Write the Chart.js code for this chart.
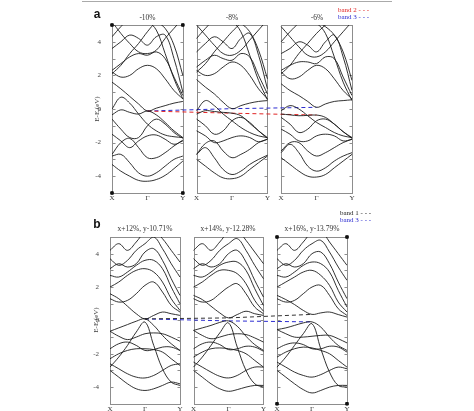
<!DOCTYPE html>
<html><head><meta charset="utf-8">
<script src="https://cdn.jsdelivr.net/npm/chart.js@4"></script>
<style>
body{margin:0;width:474px;height:411px;position:relative;background:#fff;overflow:hidden;font-family:'Liberation Serif','DejaVu Serif',serif;color:#333}
canvas{position:absolute;left:0}
.t{position:absolute;transform:translate(-50%,-50%);white-space:nowrap;font-size:7.5px;line-height:1}
.lab{position:absolute;font-size:7px;line-height:1;white-space:nowrap;transform:translateY(-50%)}
.big{position:absolute;font-family:'Liberation Sans',Arial,sans-serif;font-weight:bold;font-size:12px;transform:translate(-50%,-50%);color:#111}
.ylab{position:absolute;font-size:7px;line-height:1;white-space:nowrap;transform:translate(-50%,-50%) rotate(-90deg);color:#444}
.ylab span{font-size:5px;position:relative;top:1.5px}
</style></head>
<body>
<div style="position:absolute;left:82px;top:1px;width:310px;height:1px;background:#aaa"></div>
<canvas id="ca" width="474" height="205" style="top:0"></canvas>
<canvas id="cb" width="474" height="206" style="top:205px"></canvas>
<script>
// ---------- data ----------
const kLabels = ['X', 'Γ', 'Y'];
const kPoints = [0, 1, 2, 3, 4, 5, 6, 7, 8];
const yTicks = [-4, -2, 0, 2, 4];
const titlesA = ['-10%', '-8%', '-6%'];
const titlesB = ['x+12%, y-10.71%', 'x+14%, y-12.28%', 'x+16%, y-13.79%'];
const legendA = ['band 2', 'band 3'];
const legendB = ['band 1', 'band 3'];

// band energies (eV) at k points X..Γ..Y
const bandsA1 = [
  [-3.3, -3.7, -4.0, -4.25, -4.3, -4.2, -3.95, -3.55, -3.1],
  [-2.8, -2.7, -3.2, -3.8, -4.0, -3.8, -3.4, -3.0, -2.8],
  [-2.7, -2.0, -1.75, -2.3, -2.9, -2.9, -2.6, -2.2, -1.85],
  [-1.5, -1.9, -2.3, -1.9, -1.6, -1.55, -1.8, -2.1, -1.9],
  [-0.6, -1.2, -1.7, -1.7, -1.0, -0.6, -0.9, -1.4, -1.75],
  [0.0, 0.7, 0.35, -0.3, -0.9, -1.3, -1.55, -1.65, -1.7],
  [-0.35, -0.05, -0.2, -0.3, -0.12, -0.35, -0.8, -1.3, -1.7],
  [1.6, 1.2, 0.75, 0.3, -0.12, 0.05, 0.2, 0.35, 0.45],
  [2.2, 1.9, 2.0, 2.4, 2.6, 2.4, 1.8, 1.1, 0.6],
  [2.3, 2.7, 3.1, 3.3, 3.2, 3.4, 3.0, 1.9, 0.8],
  [3.6, 4.0, 4.4, 4.2, 3.8, 4.3, 4.4, 3.0, 1.0],
  [5.2, 4.5, 3.9, 3.4, 3.3, 3.5, 4.2, 4.8, 5.4],
  [4.3, 4.9, 5.4, 5.6, 5.5, 5.2, 4.8, 3.8, 2.0],
  [5.6, 5.5, 5.4, 5.3, 5.2, 4.7, 3.3, 1.8, 0.6],
  [2.1, 2.6, 3.3, 3.9, 4.6, 5.2, 5.6, 5.8, 5.9]
];
const bandsA2 = [
  [-3.0, -3.4, -3.8, -4.1, -4.15, -4.0, -3.6, -3.2, -2.8],
  [-2.7, -2.3, -2.9, -3.6, -3.9, -3.7, -3.3, -3.0, -2.75],
  [-2.7, -2.05, -1.9, -2.5, -2.9, -2.7, -2.4, -2.0, -1.8],
  [-1.3, -1.6, -2.0, -1.9, -1.7, -1.6, -1.7, -1.95, -1.8],
  [-0.6, -1.0, -1.5, -1.3, -0.7, -0.5, -0.8, -1.3, -1.75],
  [-0.1, 0.5, 0.2, -0.3, -0.7, -1.1, -1.4, -1.6, -1.7],
  [-0.3, -0.1, -0.15, -0.2, -0.25, -0.4, -0.85, -1.3, -1.7],
  [1.75, 1.3, 0.9, 0.4, 0.02, 0.2, 0.35, 0.45, 0.5],
  [2.3, 2.0, 2.1, 2.5, 2.8, 2.6, 2.0, 1.2, 0.6],
  [2.5, 2.9, 3.2, 3.0, 2.9, 3.3, 3.1, 2.0, 0.9],
  [3.4, 3.9, 4.3, 4.0, 3.6, 4.2, 4.5, 3.2, 1.2],
  [5.0, 4.4, 3.8, 3.3, 3.2, 3.5, 4.1, 4.7, 5.3],
  [4.2, 4.8, 5.3, 5.5, 5.4, 5.1, 4.6, 3.5, 1.8],
  [5.6, 5.5, 5.4, 5.3, 5.2, 4.6, 3.2, 1.7, 0.55],
  [2.2, 2.7, 3.4, 4.0, 4.6, 5.1, 5.5, 5.7, 5.8]
];
const bandsA3 = [
  [-2.9, -3.3, -3.7, -4.0, -4.05, -3.9, -3.5, -3.1, -2.7],
  [-2.6, -2.1, -2.6, -3.4, -3.7, -3.5, -3.1, -2.8, -2.6],
  [-2.5, -2.0, -2.0, -2.5, -2.8, -2.6, -2.3, -2.0, -1.8],
  [-1.2, -1.5, -1.9, -1.9, -1.6, -1.5, -1.6, -1.9, -1.8],
  [-0.5, -0.9, -1.4, -1.2, -0.7, -0.6, -0.9, -1.35, -1.75],
  [-0.1, 0.2, 0.0, -0.4, -0.8, -1.1, -1.4, -1.6, -1.7],
  [-0.3, -0.35, -0.4, -0.38, -0.36, -0.5, -0.9, -1.35, -1.7],
  [1.5, 1.1, 0.8, 0.45, 0.1, 0.3, 0.45, 0.5, 0.55],
  [2.2, 1.8, 1.9, 2.3, 2.6, 2.4, 1.8, 1.1, 0.6],
  [2.3, 2.6, 2.8, 2.8, 2.7, 3.1, 3.0, 1.9, 0.8],
  [3.3, 3.6, 4.0, 3.8, 3.4, 4.0, 4.4, 3.1, 1.1],
  [4.9, 4.3, 3.7, 3.2, 3.1, 3.4, 4.0, 4.6, 5.2],
  [4.0, 4.6, 5.1, 5.4, 5.2, 4.9, 4.4, 3.4, 1.7],
  [5.6, 5.5, 5.4, 5.3, 5.1, 4.5, 3.1, 1.6, 0.5],
  [2.1, 2.6, 3.3, 3.9, 4.5, 5.0, 5.4, 5.6, 5.7]
];
const bandsB1 = [
  [-3.0, -3.4, -3.8, -4.1, -4.2, -4.1, -3.9, -3.7, -3.8],
  [-2.6, -2.9, -3.2, -3.4, -3.45, -3.3, -3.0, -2.7, -2.6],
  [-2.3, -2.0, -1.8, -1.7, -1.7, -1.75, -1.9, -2.3, -2.7],
  [-1.7, -1.4, -1.3, -1.5, -1.8, -1.75, -1.6, -1.6, -1.8],
  [-0.65, -0.95, -1.15, -1.0, -0.8, -0.75, -0.8, -1.0, -1.25],
  [-0.65, -0.45, -0.25, -0.05, 0.09, -0.3, -0.9, -1.4, -1.8],
  [-2.8, -2.2, -1.5, -0.7, -0.1, -1.5, -2.9, -3.7, -3.9],
  [1.6, 1.3, 0.85, 0.4, 0.09, 0.3, 0.5, 0.4, 0.3],
  [1.3, 1.1, 1.2, 1.6, 2.1, 2.3, 1.7, 0.9, 0.5],
  [2.0, 2.3, 2.7, 3.0, 3.1, 2.9, 2.3, 1.3, 0.6],
  [2.7, 2.6, 2.9, 3.3, 3.6, 3.6, 3.1, 2.0, 1.0],
  [3.1, 3.4, 3.2, 3.4, 4.1, 4.3, 3.6, 2.5, 1.5],
  [3.7, 3.3, 3.6, 4.2, 4.6, 5.0, 4.3, 3.4, 2.6],
  [4.2, 4.6, 4.2, 4.7, 5.3, 5.4, 4.9, 4.2, 3.5]
];
const bandsB2 = [
  [-3.0, -3.4, -3.8, -4.1, -4.25, -4.15, -4.0, -3.9, -3.9],
  [-2.5, -2.8, -3.1, -3.35, -3.45, -3.3, -3.0, -2.8, -2.8],
  [-2.2, -1.9, -1.7, -1.65, -1.7, -1.8, -2.0, -2.4, -2.8],
  [-1.7, -1.4, -1.3, -1.45, -1.75, -1.7, -1.55, -1.6, -1.85],
  [-0.6, -0.9, -1.1, -1.0, -0.85, -0.8, -0.85, -1.05, -1.3],
  [-0.6, -0.45, -0.3, -0.12, -0.03, -0.35, -0.95, -1.45, -1.8],
  [-2.8, -2.2, -1.5, -0.75, -0.15, -1.6, -3.0, -3.8, -4.0],
  [1.5, 1.25, 0.85, 0.45, 0.15, 0.35, 0.55, 0.4, 0.3],
  [1.3, 1.1, 1.2, 1.6, 2.0, 2.2, 1.6, 0.8, 0.4],
  [2.0, 2.3, 2.7, 3.0, 3.0, 2.8, 2.2, 1.2, 0.55],
  [2.7, 2.6, 2.9, 3.3, 3.5, 3.5, 3.0, 1.9, 0.9],
  [3.1, 3.4, 3.2, 3.4, 4.0, 4.2, 3.5, 2.4, 1.4],
  [3.7, 3.3, 3.6, 4.2, 4.6, 4.9, 4.2, 3.3, 2.5],
  [4.2, 4.6, 4.2, 4.7, 5.3, 5.4, 4.8, 4.1, 3.4]
];
const bandsB3 = [
  [-3.0, -3.4, -3.8, -4.15, -4.35, -4.2, -4.0, -3.9, -3.9],
  [-2.5, -2.8, -3.1, -3.3, -3.4, -3.25, -3.0, -2.8, -2.9],
  [-2.2, -1.9, -1.7, -1.6, -1.65, -1.8, -2.0, -2.4, -2.8],
  [-1.7, -1.45, -1.35, -1.45, -1.7, -1.7, -1.55, -1.6, -1.9],
  [-0.55, -0.8, -1.0, -1.0, -0.95, -0.9, -0.9, -1.1, -1.35],
  [-0.55, -0.45, -0.3, -0.15, -0.09, -0.4, -1.0, -1.5, -1.8],
  [-2.8, -2.2, -1.5, -0.8, -0.2, -1.7, -3.1, -3.9, -4.0],
  [1.5, 1.25, 0.95, 0.6, 0.36, 0.45, 0.5, 0.35, 0.2],
  [1.3, 1.1, 1.2, 1.6, 2.0, 2.1, 1.5, 0.7, 0.3],
  [2.0, 2.3, 2.6, 2.9, 3.0, 2.7, 2.1, 1.1, 0.5],
  [2.7, 2.6, 2.9, 3.3, 3.5, 3.4, 2.9, 1.8, 0.8],
  [3.1, 3.4, 3.2, 3.4, 4.0, 4.1, 3.4, 2.3, 1.3],
  [3.7, 3.3, 3.6, 4.2, 4.6, 4.8, 4.1, 3.2, 2.4],
  [4.2, 4.6, 4.2, 4.7, 5.3, 5.4, 4.7, 4.0, 3.3]
];
// trend lines through Γ of each panel
const band2A = [-0.12, -0.25, -0.36];
const band3A = [-0.12, 0.02, 0.1];
const band1B = [0.09, 0.15, 0.36];
const band3B = [0.09, -0.03, -0.09];
// corner markers (panel index, k, E)
const cornersA = [[0, 0, 5], [0, 8, 5], [0, 0, -5], [0, 8, -5]];
const cornersB = [[2, 0, 5], [2, 8, 5], [2, 0, -5], [2, 8, -5]];

// ---------- drawing ----------
const STEP = 9.55;
const XMAX = 2 * STEP + 8;
const SERIF = "'Liberation Serif', 'DejaVu Serif', serif";

function place(cls, text, x, y, color) {
  const d = document.createElement('div');
  d.className = cls; d.innerHTML = text;
  d.style.left = x + 'px'; d.style.top = y + 'px';
  if (color) d.style.color = color;
  document.body.appendChild(d);
  return d;
}

const framePlugin = {
  id: 'frames',
  beforeDatasetsDraw(chart) {
    const { ctx, scales: { x, y } } = chart;
    ctx.save();
    ctx.strokeStyle = '#8d8d8d'; ctx.lineWidth = 1;
    for (let p = 0; p < 3; p++) {
      const x0 = Math.round(x.getPixelForValue(p * STEP)) + 0.5;
      const x1 = Math.round(x.getPixelForValue(p * STEP + 8)) + 0.5;
      const y0 = Math.round(y.getPixelForValue(5)) + 0.5;
      const y1 = Math.round(y.getPixelForValue(-5)) + 0.5;
      ctx.strokeRect(x0, y0, x1 - x0, y1 - y0);
      ctx.beginPath();
      for (let e = -4; e <= 4; e++) {
        const yy = Math.round(y.getPixelForValue(e)) + 0.5;
        ctx.moveTo(x0, yy); ctx.lineTo(x0 + 3, yy);
        ctx.moveTo(x1, yy); ctx.lineTo(x1 - 3, yy);
      }
      ctx.stroke();
      // k-point labels
      ctx.fillStyle = '#333';
      ctx.font = '7px ' + SERIF;
      ctx.textAlign = 'center'; ctx.textBaseline = 'middle';
      [0, 4, 8].forEach((k, i) => {
        ctx.fillText(kLabels[i], x.getPixelForValue(p * STEP + k), y1 + 5);
      });
    }
    ctx.restore();
  }
};

function makeRow(id, panels, trends, corners, top, bottom, left, right, H) {
  const datasets = [];
  panels.forEach((bands, p) => {
    bands.forEach(b => {
      datasets.push({
        data: b.map((e, i) => ({ x: p * STEP + kPoints[i], y: e })),
        borderColor: '#1c1c1c', borderWidth: 0.9, pointRadius: 0, tension: 0.38, fill: false
      });
    });
  });
  trends.forEach(t => {
    datasets.push({
      data: t.vals.map((e, p) => ({ x: p * STEP + 4, y: e })),
      borderColor: t.color, borderWidth: 1, borderDash: [4, 3], pointRadius: 0, tension: 0, fill: false
    });
  });
  datasets.push({
    type: 'scatter',
    data: corners.map(c => ({ x: c[0] * STEP + c[1], y: c[2] })),
    pointStyle: 'rect', pointRadius: 1.8, backgroundColor: '#111', borderColor: '#111', clip: false
  });
  new Chart(document.getElementById(id), {
    type: 'line',
    data: { datasets },
    plugins: [framePlugin],
    options: {
      responsive: false, animation: false,
      layout: { padding: { top: top, right: 474 - right, bottom: 0, left: 0 } },
      plugins: { legend: { display: false }, tooltip: { enabled: false } },
      scales: {
        x: {
          type: 'linear', min: 0, max: XMAX,
          grid: { display: false }, border: { display: false },
          ticks: { display: false },
          afterFit: s => { s.height = H - bottom; }
        },
        y: {
          min: -5, max: 5,
          grid: { display: false }, border: { display: false },
          afterBuildTicks: s => { s.ticks = yTicks.map(v => ({ value: v })); },
          afterFit: s => { s.width = left; },
          ticks: { padding: 3, color: '#444', font: { family: SERIF, size: 7 } }
        }
      }
    }
  });
}

makeRow('ca', [bandsA1, bandsA2, bandsA3],
  [{ vals: band2A, color: '#e02424' }, { vals: band3A, color: '#2b2bd0' }],
  cornersA, 25, 193, 112, 352, 205);
makeRow('cb', [bandsB1, bandsB2, bandsB3],
  [{ vals: band1B, color: '#333333' }, { vals: band3B, color: '#2b2bd0' }],
  cornersB, 32, 199, 110, 347, 206);

// titles and labels
const centersA = [147.5, 232, 317], centersB = [145, 228, 312];
titlesA.forEach((t, i) => place('t', t, centersA[i], 18));
titlesB.forEach((t, i) => place('t', t, centersB[i], 229));
place('big', 'a', 97, 14);
place('big', 'b', 97, 224);
place('ylab', 'E-E<span>f</span>(eV)', 97, 109);
place('ylab', 'E-E<span>f</span>(eV)', 96, 320);
place('lab', legendA[0] + ' - - -', 338, 10, '#e02424');
place('lab', legendA[1] + ' - - -', 338, 16.5, '#2b2bd0');
place('lab', legendB[0] + ' - - -', 340, 213, '#222');
place('lab', legendB[1] + ' - - -', 340, 219.5, '#2b2bd0');
</script>
</body></html>
